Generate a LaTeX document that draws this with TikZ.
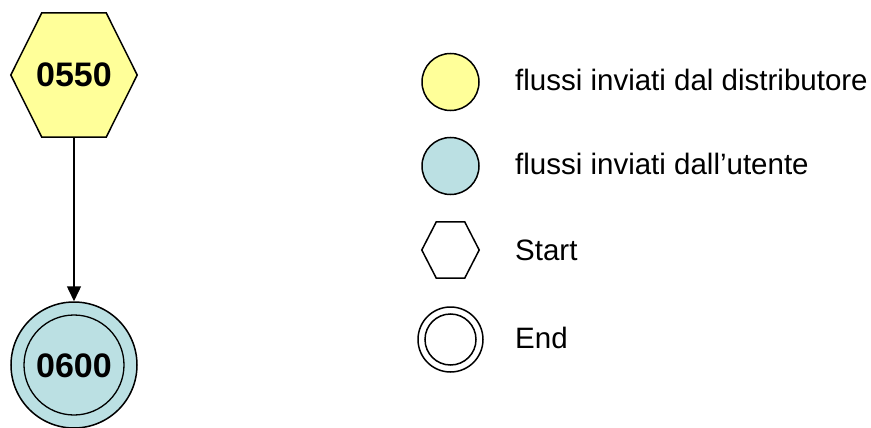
\documentclass[tikz,border=0pt]{standalone}
\usepackage{fontspec}
\setmainfont{Liberation Sans}
\usetikzlibrary{arrows.meta,backgrounds}
\definecolor{distyellow}{HTML}{FFFF99}
\definecolor{userblue}{HTML}{BBE0E3}
\tikzset{
  outline/.style={draw=black, line width=1.5pt},
  bignum/.style={font=\fontsize{34}{40}\selectfont\bfseries, inner sep=0pt},
  legtext/.style={font=\fontsize{29.5}{34}\selectfont, inner sep=0pt, anchor=base west},
  legcircle/.style={circle, outline, minimum size=57pt, inner sep=0pt},
  flow/.style={line width=1.5pt, -{Triangle[length=15pt,width=14pt]}}
}
\begin{document}
\begin{tikzpicture}[x=1pt,y=-1pt]
\useasboundingbox (0,0) rectangle (871,428);
% start node (hexagon)
\node[rectangle, minimum width=126pt, minimum height=124pt, inner sep=0pt] (a) at (74,75) {};
\node[bignum] (alabel) at (74,75) {0550};
\begin{scope}[on background layer]
\draw[outline, fill=distyellow] (a.west) -- ([xshift=31pt]a.north west) -- ([xshift=-31pt]a.north east)
  -- (a.east) -- ([xshift=-31pt]a.south east) -- ([xshift=31pt]a.south west) -- cycle;
\end{scope}
% end node (double circle)
\node[circle, outline, fill=userblue, minimum size=126pt, inner sep=0pt] (b) at (74,365) {};
\node[circle, draw=black, line width=1.3pt, minimum size=100pt, inner sep=0pt] (binner) at (b) {};
\node[bignum] (blabel) at (74,366) {0600};
% connector
\draw[flow] (a.south) -- (b.north);
% legend
\node[legcircle, fill=distyellow] (l1) at (450.5,82) {};
\node[legcircle, fill=userblue] (l2) at (450.5,166) {};
\node[rectangle, minimum width=57pt, minimum height=56pt, inner sep=0pt] (l3) at (450.5,250) {};
\draw[outline, fill=white] (l3.west) -- ([xshift=14.5pt]l3.north west) -- ([xshift=-14.5pt]l3.north east)
  -- (l3.east) -- ([xshift=-14.5pt]l3.south east) -- ([xshift=14.5pt]l3.south west) -- cycle;
\node[circle, outline, minimum size=65pt, inner sep=0pt] (l4) at (450.5,339.5) {};
\node[circle, outline, minimum size=51pt, inner sep=0pt] (l4inner) at (l4) {};
\node[legtext] (t1) at (515,90.5) {flussi inviati dal distributore};
\node[legtext] (t2) at (515,175) {flussi inviati dall’utente};
\node[legtext] (t3) at (515,260) {Start};
\node[legtext] (t4) at (515,348) {End};
\end{tikzpicture}
\end{document}
